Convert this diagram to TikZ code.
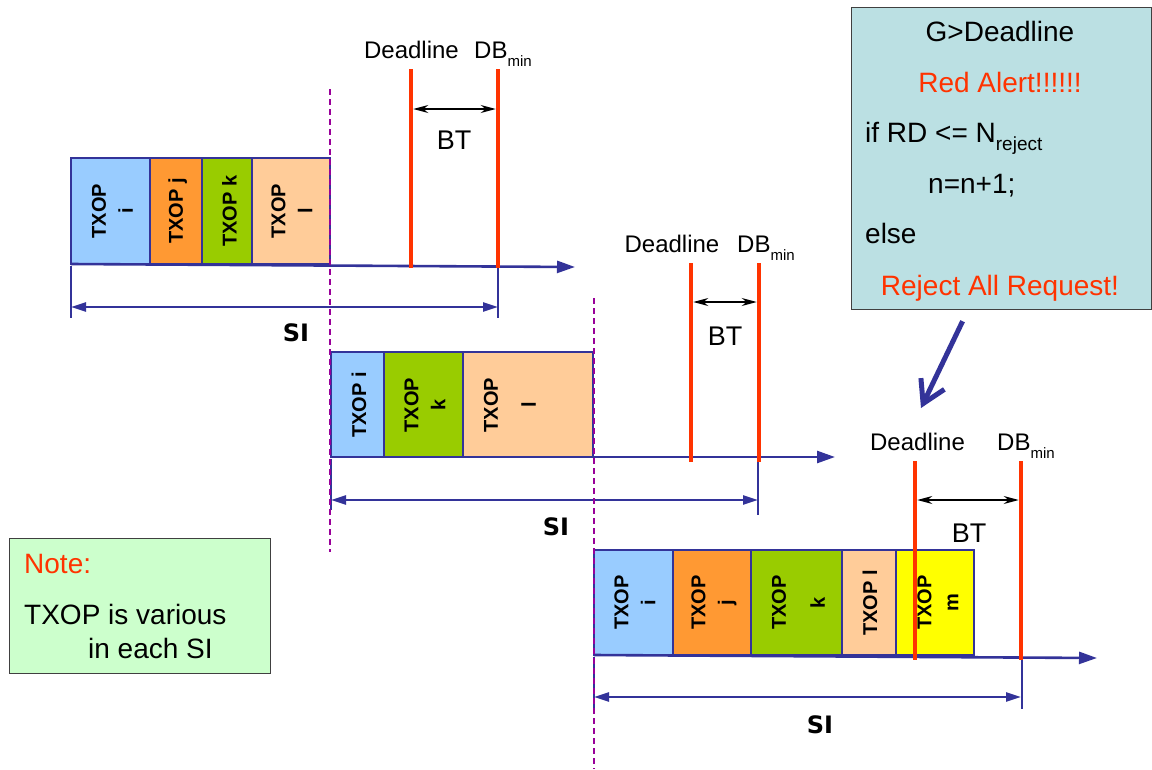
\documentclass[tikz,border=0pt]{standalone}
\usepackage{fontspec}
\setmainfont{Liberation Sans}
\newfontfamily\sifont{DejaVu Sans}
\usetikzlibrary{arrows.meta}
\definecolor{txblue}{HTML}{99CCFF}
\definecolor{txorange}{HTML}{FF9933}
\definecolor{txgreen}{HTML}{99CC00}
\definecolor{txpeach}{HTML}{FFCC99}
\definecolor{txyellow}{HTML}{FFFF00}
\definecolor{axisblue}{HTML}{333399}
\definecolor{redc}{HTML}{FF3300}
\definecolor{dashc}{HTML}{990099}
\definecolor{condfill}{HTML}{BBE0E3}
\definecolor{notefill}{HTML}{CCFFCC}
\definecolor{frame}{HTML}{404040}
\newcommand{\txb}[6]{\node[txbox,fill=#6,minimum width={#3-#2},minimum height={#5-#4}] (#1) at (#2,#4) {};}
\newcommand{\dbmin}{DB\raisebox{-8pt}{\fontsize{15}{15}\selectfont min}}
\tikzset{
  txbox/.style={draw=axisblue, line width=1.2pt, inner sep=0pt, outer sep=0pt, anchor=north west},
  txop/.style={rotate=90, align=center, inner sep=0pt, font=\bfseries\fontsize{20}{27}\selectfont},
  axisline/.style={draw=axisblue, line width=2.6pt, -{Triangle[length=18pt,width=12pt]}},
  redl/.style={draw=redc, line width=4.6pt},
  tickl/.style={draw=axisblue, line width=2.4pt},
  siarr/.style={draw=axisblue, line width=2.4pt, {Triangle[length=15pt,width=9pt]}-{Triangle[length=15pt,width=9pt]}},
  btarr/.style={draw=black, line width=1.2pt, {Stealth[length=15pt,width=8pt]}-{Stealth[length=15pt,width=8pt]}},
  dl/.style={draw=dashc, line width=1.3pt, dash pattern=on 6pt off 4pt},
  lbl/.style={inner sep=0pt, anchor=base, font=\fontsize{24}{28}\selectfont},
  lblw/.style={lbl, anchor=base west},
  btlbl/.style={inner sep=0pt, font=\fontsize{27}{30}\selectfont},
  silbl/.style={inner sep=0pt, font=\sifont\bfseries\fontsize{24}{30}\selectfont},
  boxtxt/.style={inner sep=0pt, anchor=base, font=\fontsize{28}{32}\selectfont},
  boxtxtw/.style={boxtxt, anchor=base west},
  panel/.style={draw=frame, line width=1.2pt, inner sep=0pt, anchor=north west},
  bigarr/.style={draw=axisblue, line width=5pt, -{Straight Barb[length=22pt,width=26pt]}}
}
\begin{document}
\begin{tikzpicture}[x=1pt,y=-1pt]
\useasboundingbox (0,0) rectangle (1152,769);

% ---------- Row 1 ----------
\txb{b1i}{71}{150}{158}{264}{txblue}
\txb{b1j}{150}{202}{158}{264}{txorange}
\txb{b1k}{202}{252}{158}{264}{txgreen}
\txb{b1l}{252}{330}{158}{264}{txpeach}
\node[txop] (t1i) at (112.5,211) {TXOP\\i};
\node[txop] (t1j) at (177.6,211) {TXOP j};
\node[txop] (t1k) at (229.5,211) {TXOP k};
\node[txop] (t1l) at (292,211) {TXOP\\l};
\coordinate (r1tip) at (575,267);
\draw[axisline] (b1i.south west) -- (r1tip);
\coordinate (r1dT) at (411,69);  \coordinate (r1dB) at (411,268);
\coordinate (r1mT) at (498,69);  \coordinate (r1mB) at (498,268);
\draw[redl] (r1dT) -- (r1dB);
\draw[redl] (r1mT) -- (r1mB);
\coordinate (r1bL) at (413.3,109); \coordinate (r1bR) at (495.7,109);
\draw[btarr] (r1bL) -- (r1bR);
\node[btlbl] (bt1) at (454,140) {BT};
\node[lbl] (dl1) at (411.5,58) {Deadline};
\node[lblw] (db1) at (474,58) {\dbmin};
\coordinate (r1lt) at (71,266); \coordinate (r1lb) at (71,318);
\coordinate (r1rt) at (498,268); \coordinate (r1rb) at (498,318);
\draw[tickl] (r1lt) -- (r1lb);
\draw[tickl] (r1rt) -- (r1rb);
\coordinate (r1sL) at (71,307); \coordinate (r1sR) at (498,307);
\draw[siarr] (r1sL) -- (r1sR);
\node[silbl] (si1) at (296,333) {SI};

% ---------- Row 2 ----------
\txb{b2i}{331}{384}{352}{457}{txblue}
\txb{b2k}{384}{463}{352}{457}{txgreen}
\txb{b2l}{463}{593}{352}{457}{txpeach}
\node[txop] (t2i) at (359,405) {TXOP i};
\node[txop] (t2k) at (425,405) {TXOP\\k};
\node[txop] (t2l) at (510,405) {TXOP\\[11pt]l};
\coordinate (r2tip) at (835,457);
\draw[axisline] (b2i.south west) -- (r2tip);
\coordinate (r2dT) at (691,263);  \coordinate (r2dB) at (691,462);
\coordinate (r2mT) at (759,263);  \coordinate (r2mB) at (759,462);
\draw[redl] (r2dT) -- (r2dB);
\draw[redl] (r2mT) -- (r2mB);
\coordinate (r2bL) at (693.3,302); \coordinate (r2bR) at (756.7,302);
\draw[btarr] (r2bL) -- (r2bR);
\node[btlbl] (bt2) at (725,336) {BT};
\node[lbl] (dl2) at (672,252) {Deadline};
\node[lblw] (db2) at (737,252) {\dbmin};
\coordinate (r2lt) at (331,459); \coordinate (r2lb) at (331,510);
\coordinate (r2rt) at (758,462); \coordinate (r2rb) at (758,515);
\draw[tickl] (r2lt) -- (r2lb);
\draw[tickl] (r2rt) -- (r2rb);
\coordinate (r2sL) at (331,500); \coordinate (r2sR) at (758,500);
\draw[siarr] (r2sL) -- (r2sR);
\node[silbl] (si2) at (556,527) {SI};

% ---------- Row 3 ----------
\txb{b3i}{594}{673}{550}{655}{txblue}
\txb{b3j}{673}{751}{550}{655}{txorange}
\txb{b3k}{751}{842}{550}{655}{txgreen}
\txb{b3l}{842}{896}{550}{655}{txpeach}
\txb{b3m}{896}{974}{550}{655}{txyellow}
\node[txop] (t3i) at (635,602.5) {TXOP\\i};
\node[txop] (t3j) at (714,602.5) {TXOP\\j};
\node[txop] (t3k) at (798.5,602.5) {TXOP\\[12pt]k};
\node[txop] (t3l) at (870,603) {TXOP l};
\node[txop] (t3m) at (938,602.5) {TXOP\\m};
\coordinate (r3tip) at (1097,658);
\draw[axisline] (b3i.south west) -- (r3tip);
\coordinate (r3dT) at (915,461);  \coordinate (r3dB) at (915,660);
\coordinate (r3mT) at (1021,461); \coordinate (r3mB) at (1021,660);
\draw[redl] (r3dT) -- (r3dB);
\draw[redl] (r3mT) -- (r3mB);
\coordinate (r3bL) at (917.3,500); \coordinate (r3bR) at (1018.7,500);
\draw[btarr] (r3bL) -- (r3bR);
\node[btlbl] (bt3) at (969,533) {BT};
\node[lbl] (dl3) at (917.5,450) {Deadline};
\node[lblw] (db3) at (997,450) {\dbmin};
\coordinate (r3lt) at (594,657); \coordinate (r3lb) at (594,708);
\coordinate (r3rt) at (1022,660); \coordinate (r3rb) at (1022,709);
\draw[tickl] (r3lt) -- (r3lb);
\draw[tickl] (r3rt) -- (r3rb);
\coordinate (r3sL) at (594,697); \coordinate (r3sR) at (1021,697);
\draw[siarr] (r3sL) -- (r3sR);
\node[silbl] (si3) at (820,725) {SI};

% ---------- dashed boundaries ----------
\coordinate (d1T) at (330,89);  \coordinate (d1B) at (330,552);
\coordinate (d2T) at (594,298); \coordinate (d2B) at (594,769);
\draw[dl] (d1T) -- (d1B);
\draw[dl] (d2T) -- (d2B);

% ---------- condition panel ----------
\node[panel, fill=condfill, minimum width=300, minimum height=302] (cond) at (851,7) {};
\node[boxtxt] (c1) at (1000,41) {G>Deadline};
\node[boxtxt, text=redc] (c2) at (1000,92) {Red Alert!!!!!!};
\node[boxtxtw] (c3) at (865,142) {if RD <= N\raisebox{-8pt}{\fontsize{19}{19}\selectfont reject}};
\node[boxtxtw] (c4) at (928,193) {n=n+1;};
\node[boxtxtw] (c5) at (865,243) {else};
\node[boxtxt, text=redc] (c6) at (1000,295) {Reject All Request!};
\coordinate (tgt) at (921,408);
\draw[bigarr] ([shift={(-39,11)}]cond.south) -- (tgt);

% ---------- note panel ----------
\node[panel, fill=notefill, minimum width=261, minimum height=135] (note) at (9,538) {};
\node[boxtxtw, text=redc] (n1) at (24,573) {Note:};
\node[boxtxtw] (n2) at (24,624) {TXOP is various};
\node[boxtxtw] (n3) at (88,658) {in each SI};
\end{tikzpicture}
\end{document}
